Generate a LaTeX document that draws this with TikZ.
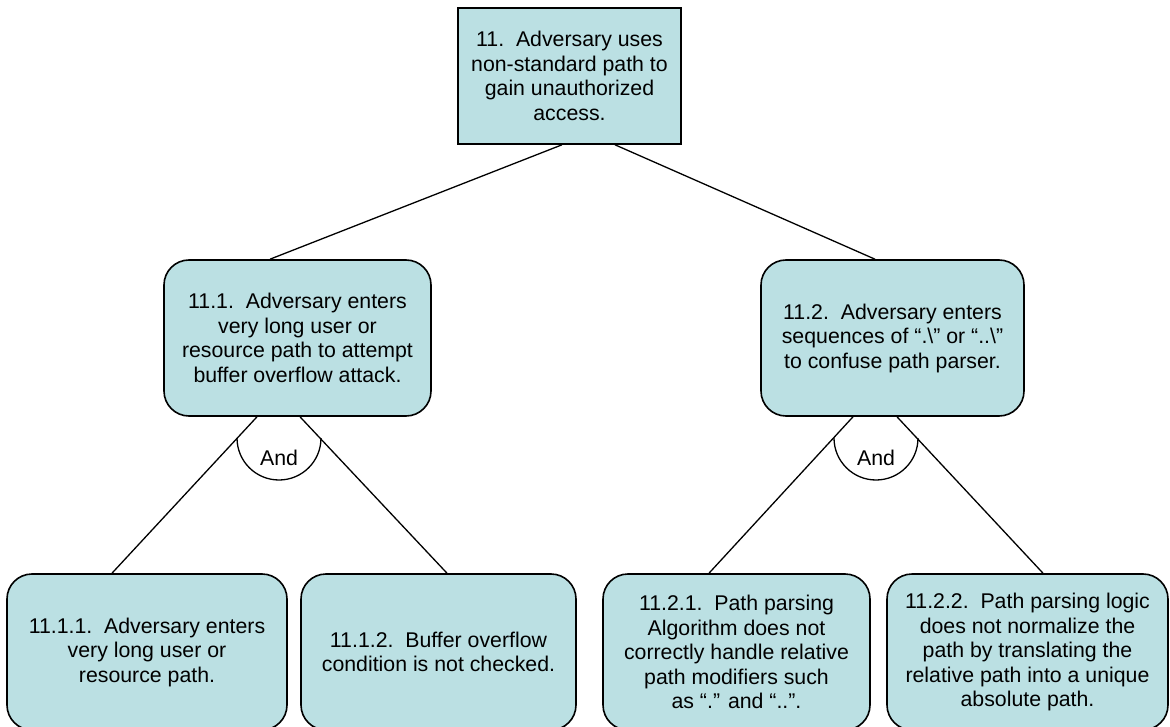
\documentclass[tikz,border=0pt]{standalone}
\usepackage{fontspec}
\setmainfont{Liberation Sans}
\definecolor{boxfill}{RGB}{187,224,227}
\begin{document}
\begin{tikzpicture}[x=1pt,y=-1pt,
  every node/.style={font=\fontsize{21.3}{24.5}\selectfont, align=center},
  topbox/.style={draw=black, line width=1.6pt, fill=boxfill, rectangle, inner sep=0pt},
  goalbox/.style={draw=black, line width=1.6pt, fill=boxfill, rectangle, rounded corners=25pt, inner sep=0pt},
  link/.style={draw=black, line width=1.3pt},
  andgate/.style={draw=black, line width=1.3pt}
]
\clip (0,0) rectangle (1170,727);
\fill[white] (0,0) rectangle (1170,727);

\node[topbox, minimum width=223pt, minimum height=136pt] (root) at (569.5,76)
  {11.\ \ Adversary uses\\non-standard path to\\gain unauthorized\\access.};

\node[goalbox, minimum width=267pt, minimum height=156pt] (a) at (297.5,338)
  {11.1.\ \ Adversary enters\\very long user or\\resource path to attempt\\buffer overflow attack.};
\node[goalbox, minimum width=263pt, minimum height=156pt] (b) at (892.5,338)
  {11.2.\ \ Adversary enters\\sequences of “.\textbackslash” or “..\textbackslash”\\to confuse path parser.};

\node[goalbox, minimum width=280pt, minimum height=156pt] (aa) at (147,652)
  {11.1.1.\ \ Adversary enters\\very long user or\\resource path.};
\node[goalbox, minimum width=275pt, minimum height=156pt] (ab) at (438.5,652)
  {11.1.2.\ \ Buffer overflow\\condition is not checked.};
\node[goalbox, minimum width=267pt, minimum height=156pt] (ba) at (736.5,652)
  {11.2.1.\ \ Path parsing\\Algorithm does not\\correctly handle relative\\path modifiers such\\as “.” and “..”.};
\node[goalbox, minimum width=281pt, minimum height=156pt] (bb) at (1027.5,652)
  {11.2.2.\ \ Path parsing logic\\does not normalize the\\path by translating the\\relative path into a unique\\absolute path.};

% connectors
\draw[link] ([xshift=-7.5pt]root.south) -- ([xshift=-27.5pt]a.north);
\draw[link] ([xshift=45.5pt]root.south) -- ([xshift=-17.5pt]b.north);

\draw[link] ([xshift=-40.5pt]a.south) -- ([xshift=-35pt]aa.north);
\draw[link] ([xshift=2.5pt]a.south) -- ([xshift=8.5pt]ab.north);
\draw[link] ([xshift=-39.5pt]b.south) -- ([xshift=-27.5pt]ba.north);
\draw[link] ([xshift=4.5pt]b.south) -- ([xshift=15.5pt]bb.north);

% AND gates
\draw[andgate] (237,438) arc[start angle=180, end angle=0, radius=42];
\node (anda) at (279,458) {And};
\draw[andgate] (834,438) arc[start angle=180, end angle=0, radius=42];
\node (andb) at (876,458) {And};
\end{tikzpicture}
\end{document}
